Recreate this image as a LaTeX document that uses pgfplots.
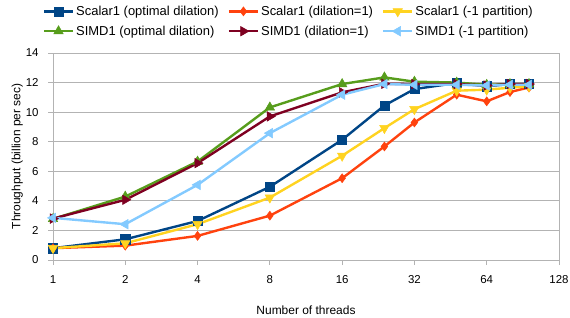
\documentclass[border=0pt]{standalone}
\usepackage{fontspec}
\setmainfont{Liberation Sans}
\usepackage{pgfplots}
\pgfplotsset{compat=1.18}
\definecolor{cA}{HTML}{004586}
\definecolor{cB}{HTML}{FF420E}
\definecolor{cC}{HTML}{FFD320}
\definecolor{cD}{HTML}{579D1C}
\definecolor{cE}{HTML}{7E0021}
\definecolor{cF}{HTML}{83CAFF}
\definecolor{gridg}{HTML}{B3B3B3}
\begin{document}
\begin{tikzpicture}
\path[use as bounding box] (-53bp,-58bp) rectangle (517bp,260bp);
\begin{axis}[
  scale only axis,
  width=506bp, height=207bp,
  xmode=log, log basis x=2,
  xmin=1, xmax=128, ymin=0, ymax=14,
  xtick={1,2,4,8,16,32,64,128},
  xticklabels={1,2,4,8,16,32,64,128},
  ytick={0,2,4,6,8,10,12,14},
  ymajorgrids, grid style={gridg, line width=0.8pt},
  axis line style={gridg, line width=0.8pt},
  tick style={gridg, line width=0.8pt},
  tick align=outside, major tick length=5bp,
  xtick pos=bottom, ytick pos=left,
  /pgf/number format/assume math mode=true,
  ticklabel style={font=\fontsize{11.5}{13}\selectfont, text=black},
  xticklabel style={yshift=-7bp},
  yticklabel style={xshift=-6bp},
  xlabel={Number of threads}, ylabel={Throughput (billion per sec)},
  label style={font=\fontsize{12}{14}\selectfont},
  xlabel style={yshift=-15bp},
  ylabel style={yshift=-4bp},
  legend columns=3,
  legend style={draw=none, at={(0.466,1.238)}, anchor=north, inner sep=0pt,
    font=\fontsize{13}{15}\selectfont, row sep=5bp,
    /tikz/every even column/.append style={column sep=7bp}},
  legend cell align=left,
  legend image code/.code={\draw[#1,mark repeat=2,mark phase=2] plot coordinates {(0bp,0bp) (14.5bp,0bp) (29bp,0bp)};},
  every axis plot/.append style={line width=2.4pt},
]
\addplot[cA, mark=square*, mark size=4.6bp, mark options={line width=0.5pt}] coordinates {(1,0.8) (2,1.4) (4,2.64) (8,4.95) (16,8.13) (24,10.45) (32,11.56) (48,11.97) (64,11.75) (80,11.9) (96,11.9)};
\addlegendentry{Scalar1 (optimal dilation)}
\addplot[cB, mark=diamond*, mark size=4.5bp, mark options={line width=0.5pt}] coordinates {(1,0.8) (2,0.97) (4,1.63) (8,3.0) (16,5.53) (24,7.68) (32,9.3) (48,11.18) (64,10.73) (80,11.36) (96,11.67)};
\addlegendentry{Scalar1 (dilation=1)}
\addplot[cC, mark=triangle*, mark size=5.5bp, mark options={rotate=180, line width=0.5pt}] coordinates {(1,0.8) (2,1.13) (4,2.42) (8,4.22) (16,7.05) (24,8.92) (32,10.2) (48,11.45) (64,11.52) (80,11.65) (96,11.74)};
\addlegendentry{Scalar1 (-1 partition)}
\addplot[cD, mark=triangle*, mark size=5.5bp, mark options={line width=0.5pt}] coordinates {(1,2.78) (2,4.29) (4,6.66) (8,10.32) (16,11.9) (24,12.35) (32,12.06) (48,12.0) (64,11.85) (80,11.9) (96,11.9)};
\addlegendentry{SIMD1 (optimal dilation)}
\addplot[cE, mark=triangle*, mark size=5.5bp, mark options={rotate=-90, line width=0.5pt}] coordinates {(1,2.8) (2,4.07) (4,6.55) (8,9.71) (16,11.34) (24,11.92) (32,11.9) (48,11.9) (64,11.8) (80,11.9) (96,11.9)};
\addlegendentry{SIMD1 (dilation=1)}
\addplot[cF, mark=triangle*, mark size=5.5bp, mark options={rotate=90, line width=0.5pt}] coordinates {(1,2.85) (2,2.42) (4,5.08) (8,8.58) (16,11.18) (24,11.9) (32,11.85) (48,11.85) (64,11.8) (80,11.85) (96,11.85)};
\addlegendentry{SIMD1 (-1 partition)}
\end{axis}
\end{tikzpicture}
\end{document}
